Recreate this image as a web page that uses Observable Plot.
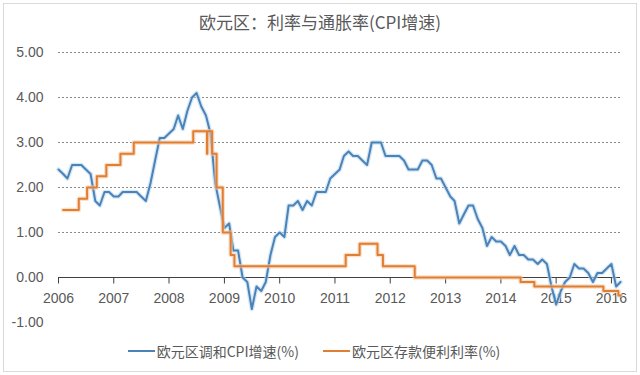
<!DOCTYPE html>
<html>
<head>
<meta charset="utf-8">
<script src="https://cdn.jsdelivr.net/npm/d3@7"></script>
<script src="https://cdn.jsdelivr.net/npm/@observablehq/plot@0.6"></script>
<style>
  body { margin: 0; background: #fff; }
  #wrap { position: relative; width: 640px; height: 375px; overflow: hidden; background: #fff;
          font-family: "Noto Sans CJK SC", "Liberation Sans", sans-serif; }
  #frame { position: absolute; left: 3px; top: 3px; width: 634px; height: 369px;
           border: 1px solid #d9d9d9; box-sizing: border-box; }
  #title { position: absolute; top: 11px; left: 0; width: 640px; text-align: center;
           font-size: 17px; line-height: 22px; color: #595959; }
  #chart { position: absolute; left: 0; top: 0; }
  #legend { position: absolute; top: 341px; left: -6px; width: 640px; display: flex;
            justify-content: center; align-items: center; gap: 24px;
            font-size: 14px; line-height: 20px; color: #595959; }
  .item { display: flex; align-items: center; }
  .sw { width: 27px; height: 2px; margin-right: 2px; }
</style>
</head>
<body>
<div id="wrap">
  <div id="frame"></div>
  <div id="chart"></div>
  <div id="title">欧元区：利率与通胀率(CPI增速)</div>
  <div id="legend"></div>
</div>
<script>
// ---- data ----
const seriesNames = ["欧元区调和CPI增速(%)", "欧元区存款便利利率(%)"];
const seriesColors = ["#4d82b8", "#e07e34"];

// Monthly HICP y/y, Jan 2006 .. Mar 2016
const cpiStart = "2006-01-01";
const cpiValues = [
  2.4,2.3,2.2,2.5,2.5,2.5,2.4,2.3,1.7,1.6,1.9,1.9,
  1.8,1.8,1.9,1.9,1.9,1.9,1.8,1.7,2.1,2.6,3.1,3.1,
  3.2,3.3,3.6,3.3,3.7,4.0,4.1,3.8,3.6,3.2,2.1,1.6,
  1.1,1.2,0.6,0.6,0.0,-0.1,-0.7,-0.2,-0.3,-0.1,0.5,0.9,
  1.0,0.9,1.6,1.6,1.7,1.5,1.7,1.6,1.9,1.9,1.9,2.2,
  2.3,2.4,2.7,2.8,2.7,2.7,2.6,2.5,3.0,3.0,3.0,2.7,
  2.7,2.7,2.7,2.6,2.4,2.4,2.4,2.6,2.6,2.5,2.2,2.2,
  2.0,1.8,1.7,1.2,1.4,1.6,1.6,1.3,1.1,0.7,0.9,0.8,
  0.8,0.7,0.5,0.7,0.5,0.5,0.4,0.4,0.3,0.4,0.3,-0.2,
  -0.6,-0.3,-0.1,0.0,0.3,0.2,0.2,0.1,-0.1,0.1,0.1,0.2,
  0.3,-0.2,-0.1
];

// Deposit facility rate: change dates (as placed in the picture) and levels
const rateDates = ["2006-02-01","2006-05-15","2006-07-09","2006-09-11","2006-11-13",
  "2007-02-14","2007-05-13","2008-06-09","2008-09-08","2008-09-10","2008-10-12",
  "2008-11-10","2008-12-21","2009-02-11","2009-03-08","2011-03-13","2011-06-13",
  "2011-10-09","2011-11-14","2012-06-11","2014-05-11","2014-08-10","2015-11-09",
  "2016-02-16","2016-03-01"];
const rateValues = [1.50,1.75,2.00,2.25,2.50,2.75,3.00,3.25,2.75,3.25,2.75,
  2.00,1.00,0.50,0.25,0.50,0.75,0.50,0.25,0.00,-0.10,-0.20,-0.30,-0.40,-0.40];

const yearLabels = ["2006","2007","2008","2009","2010","2011","2012","2013","2014","2015","2016"];
const yTicks = [-1, 0, 1, 2, 3, 4, 5];
const gridValues = [1, 2, 3, 4, 5];

// ---- build tables ----
const parse = d3.timeParse("%Y-%m-%d");
const start = parse(cpiStart);
const cpiData = cpiValues.map((v, i) => ({date: d3.timeMonth.offset(start, i), value: v}));
const rateData = rateDates.map((d, i) => ({date: parse(d), value: rateValues[i]}));
const yearDates = yearLabels.map(y => ({date: parse(y + "-01-01"), label: y}));

const textColor = "#595959";

// downward tick mark used as a dot symbol on the zero axis
const tickDown = {draw(context) { context.moveTo(0, 0); context.lineTo(0, 6); }};

const chart = Plot.plot({
  width: 640,
  height: 340,
  marginLeft: 58,
  marginRight: 20,
  marginTop: 52,
  marginBottom: 18,
  x: {domain: [start, d3.timeMonth.offset(start, cpiValues.length - 1)], axis: null},
  y: {domain: [-1, 5], axis: null},
  style: {background: "transparent", fontFamily: "'Liberation Sans', sans-serif"},
  marks: [
    Plot.ruleY(gridValues, {stroke: "#8a8a8a", strokeDasharray: "2,2", strokeWidth: 1}),
    Plot.axisY(yTicks, {tickFormat: d => d.toFixed(2), tickSize: 0, tickPadding: 15,
      fontSize: 14, fill: textColor, label: null}),
    Plot.text(yearDates, {x: "date", y: () => 0, text: "label", dy: 21, fontSize: 14, fill: textColor}),
    Plot.ruleY([0], {stroke: "#404040", strokeWidth: 1}),
    Plot.dot(yearDates, {x: "date", y: () => 0, symbol: tickDown, r: 3, stroke: "#404040", fill: "none", strokeWidth: 1}),
    Plot.lineY(cpiData, {x: "date", y: "value", stroke: "#b5d8ef", strokeWidth: 4.5, strokeOpacity: 0.6}),
    Plot.lineY(cpiData, {x: "date", y: "value", stroke: seriesColors[0], strokeWidth: 2}),
    Plot.line(rateData, {x: "date", y: "value", curve: "step-after", stroke: "#f6caa5", strokeWidth: 4.5, strokeOpacity: 0.6}),
    Plot.line(rateData, {x: "date", y: "value", curve: "step-after", stroke: seriesColors[1], strokeWidth: 2})
  ]
});
document.getElementById("chart").appendChild(chart);

const legend = document.getElementById("legend");
seriesNames.forEach((name, i) => {
  const item = document.createElement("div");
  item.className = "item";
  const sw = document.createElement("span");
  sw.className = "sw";
  sw.style.background = seriesColors[i];
  const label = document.createElement("span");
  label.textContent = name;
  item.appendChild(sw);
  item.appendChild(label);
  legend.appendChild(item);
});
</script>
</body>
</html>
